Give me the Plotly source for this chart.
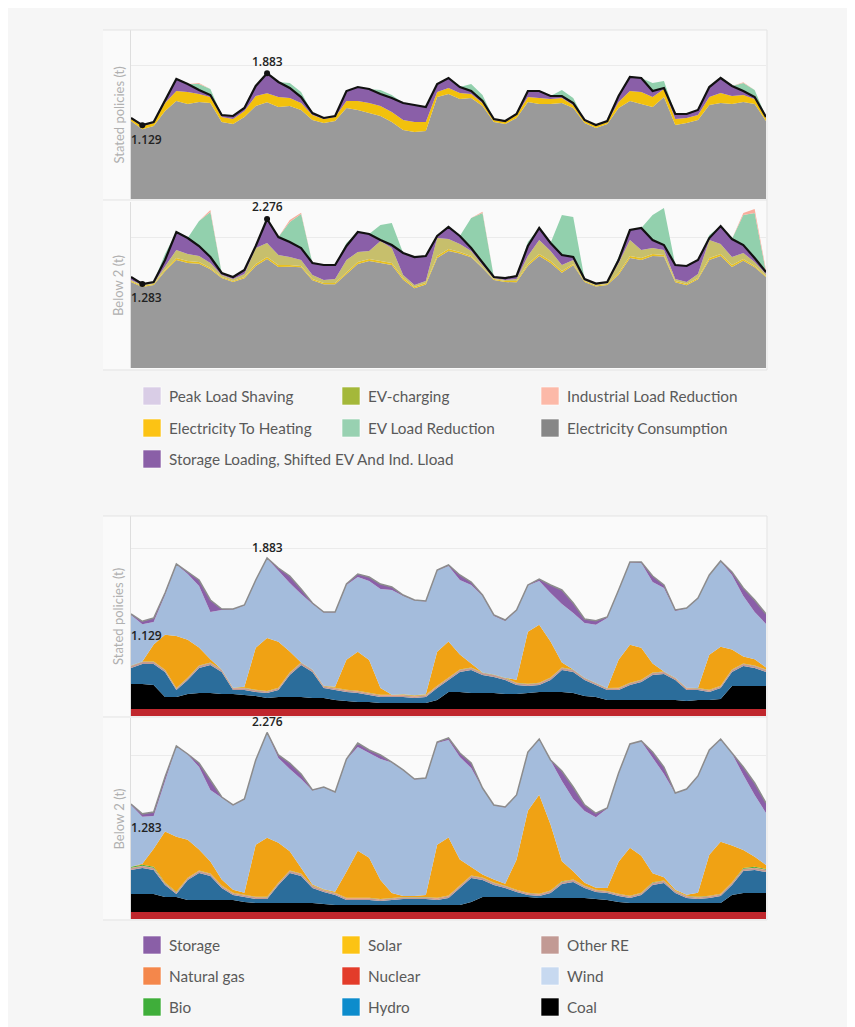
import plotly.graph_objects as go

W, H = 847, 1019   # page body has an 8px margin
OFF = 8

hours = list(range(0, 169, 3))  # 57 points, one week

# ---------------- Panel 1: Stated policies, demand side ----------------
total_demand_stated = [1.233,1.129,1.175,1.494,1.798,1.726,1.639,1.566,1.276,1.262,
                       1.378,1.697,1.883,1.755,1.668,1.537,1.305,1.233,1.262,1.624,
                       1.682,1.653,1.581,1.523,1.450,1.421,1.392,1.726,1.813,1.682,
                       1.624,1.479,1.218,1.189,1.291,1.624,1.624,1.552,1.552,1.450,
                       1.204,1.131,1.189,1.552,1.827,1.813,1.624,1.668,1.291,1.291,
                       1.349,1.682,1.813,1.697,1.624,1.537,1.247]
heating_stated = [0.029,0.044,0.044,0.116,0.145,0.174,0.116,0.087,0.073,0.073,
                  0.087,0.145,0.131,0.145,0.116,0.102,0.073,0.058,0.058,0.102,
                  0.131,0.145,0.145,0.145,0.145,0.145,0.131,0.073,0.087,0.087,
                  0.058,0.044,0.029,0.029,0.044,0.073,0.087,0.073,0.073,0.044,
                  0.029,0.029,0.029,0.087,0.145,0.174,0.145,0.116,0.087,0.073,
                  0.073,0.116,0.145,0.116,0.102,0.073,0.044]
storage_load_stated = [0.015,0.015,0.015,0.044,0.174,0.116,0.058,0.029,0.029,0.044,
                       0.044,0.145,0.290,0.218,0.145,0.087,0.029,0.015,0.015,0.145,
                       0.203,0.203,0.174,0.203,0.247,0.247,0.218,0.116,0.145,0.087,
                       0.044,0.029,0.015,0.015,0.015,0.087,0.102,0.044,0.029,0.029,
                       0.015,0.015,0.015,0.087,0.203,0.203,0.087,0.015,0.073,0.058,
                       0.073,0.145,0.218,0.145,0.058,0.029,0.015]
ev_reduction_stated = [0,0,0,0,0,0,0.087,0.087,0,0,
                       0,0,0,0,0.073,0.073,0,0,0,0,
                       0,0,0.058,0.044,0,0,0,0,0,0,
                       0.102,0.087,0,0,0,0,0,0,0.087,0.073,
                       0,0,0,0,0,0,0.116,0.102,0,0,
                       0,0,0,0,0.116,0.102,0]
industrial_stated = [0,0,0,0,0,0,0.015,0,0,0,
                     0,0,0,0,0,0,0,0,0,0,
                     0,0,0,0,0,0,0,0,0,0,
                     0,0,0,0,0,0,0,0,0,0,
                     0,0,0,0,0,0,0,0,0,0,
                     0,0,0,0,0.010,0,0]

# ---------------- Panel 2: Below 2, demand side ----------------
total_demand_below2 = [1.390,1.283,1.313,1.649,2.077,1.985,1.863,1.695,1.451,1.390,
                       1.496,1.863,2.276,2.000,1.924,1.832,1.603,1.573,1.573,1.863,
                       2.077,2.046,1.955,1.878,1.756,1.695,1.710,2.016,2.153,2.016,
                       1.832,1.603,1.390,1.374,1.405,1.863,2.138,1.909,1.726,1.695,
                       1.359,1.290,1.313,1.649,2.107,2.138,1.955,1.878,1.573,1.558,
                       1.649,1.985,2.168,1.970,1.878,1.680,1.466]
heating_below2 = [0.015,0.015,0.015,0.020,0.030,0.030,0.025,0.020,0.015,0.015,
                  0.020,0.030,0.030,0.030,0.025,0.020,0.020,0.020,0.020,0.025,
                  0.030,0.030,0.030,0.030,0.025,0.020,0.020,0.030,0.030,0.025,
                  0.020,0.015,0.015,0.015,0.020,0.025,0.030,0.030,0.025,0.020,
                  0.015,0.015,0.015,0.025,0.030,0.030,0.030,0.025,0.020,0.020,
                  0.020,0.030,0.030,0.030,0.025,0.020,0.015]
ev_charging_below2 = [0.015,0.015,0.015,0.061,0.122,0.107,0.092,0.076,0.031,0.031,
                      0.046,0.244,0.214,0.153,0.122,0.092,0.061,0.046,0.061,0.183,
                      0.153,0.122,0.305,0.229,0.046,0.031,0.031,0.275,0.153,0.122,
                      0.076,0.031,0.015,0.015,0.031,0.122,0.214,0.153,0.092,0.061,
                      0.015,0.015,0.015,0.153,0.244,0.122,0.092,0.076,0.031,0.031,
                      0.061,0.275,0.153,0.122,0.092,0.061,0.031]
storage_load_below2 = [0.046,0.015,0.015,0.092,0.275,0.244,0.153,0.092,0.031,0.031,
                       0.061,0.031,0.367,0.275,0.229,0.183,0.183,0.229,0.214,0.214,
                       0.305,0.260,0.015,0.046,0.336,0.428,0.382,0.031,0.183,0.122,
                       0.046,0.031,0.015,0.031,0.046,0.153,0.183,0.122,0.153,0.046,
                       0.015,0.015,0.015,0.046,0.153,0.336,0.122,0.076,0.214,0.244,
                       0.214,0.031,0.275,0.275,0.122,0.061,0.031]
ev_reduction_below2 = [0,0,0,0.092,0,0,0.382,0.687,0,0,
                       0,0,0,0,0.305,0.519,0,0,0,0.046,
                       0,0,0.229,0.336,0,0,0,0,0,0,
                       0.458,0.764,0,0,0,0.061,0,0,0.611,0.611,
                       0,0,0,0.046,0,0,0.382,0.565,0,0,
                       0,0.046,0,0,0.458,0.687,0]
industrial_below2 = [0,0,0,0,0,0,0,0.030,0,0,
                     0,0,0,0,0.030,0.020,0,0,0,0,
                     0,0,0,0,0,0,0,0,0,0,
                     0,0.020,0,0,0,0,0,0,0,0,
                     0,0,0,0,0,0,0,0,0,0,
                     0,0,0,0,0.030,0.060,0.030]

# ---------------- Panel 3: Stated policies, supply side ----------------
total_supply_stated = [1.216,1.129,1.168,1.466,1.812,1.716,1.621,1.383,1.275,1.275,
                       1.323,1.621,1.883,1.764,1.669,1.514,1.347,1.240,1.240,1.573,
                       1.693,1.657,1.573,1.538,1.442,1.383,1.371,1.740,1.800,1.681,
                       1.597,1.442,1.204,1.144,1.264,1.562,1.633,1.562,1.502,1.347,
                       1.156,1.135,1.180,1.502,1.836,1.836,1.669,1.562,1.264,1.287,
                       1.407,1.681,1.848,1.716,1.526,1.383,1.216]
nuclear_stated = [0.083]*57
coal_stated = [0.298,0.298,0.286,0.143,0.143,0.179,0.191,0.191,0.179,0.179,
               0.167,0.155,0.131,0.143,0.143,0.143,0.131,0.131,0.107,0.095,
               0.083,0.083,0.072,0.072,0.072,0.072,0.072,0.107,0.203,0.203,
               0.191,0.191,0.191,0.179,0.179,0.191,0.203,0.203,0.203,0.191,
               0.155,0.143,0.107,0.107,0.107,0.107,0.107,0.107,0.107,0.095,
               0.107,0.107,0.119,0.274,0.274,0.274,0.274]
hydro_stated = [0.191,0.238,0.250,0.298,0.083,0.167,0.298,0.334,0.262,0.048,
                0.060,0.048,0.060,0.083,0.262,0.381,0.310,0.119,0.119,0.107,
                0.107,0.083,0.072,0.072,0.072,0.060,0.072,0.143,0.143,0.238,
                0.274,0.215,0.191,0.167,0.107,0.083,0.083,0.143,0.262,0.250,
                0.191,0.143,0.119,0.119,0.179,0.215,0.298,0.310,0.238,0.131,
                0.119,0.095,0.131,0.167,0.238,0.215,0.167]
other_re_stated = [0.024,0.024,0.024,0.020,0.018,0.020,0.024,0.024,0.024,0.020,
                   0.020,0.020,0.018,0.020,0.024,0.024,0.024,0.020,0.020,0.020,
                   0.020,0.020,0.018,0.018,0.018,0.018,0.018,0.020,0.024,0.024,
                   0.024,0.024,0.024,0.020,0.020,0.020,0.020,0.024,0.024,0.024,
                   0.020,0.020,0.018,0.020,0.020,0.020,0.024,0.024,0.020,0.020,
                   0.018,0.020,0.020,0.024,0.024,0.024,0.024]
gas_stated = [0.004]*57
bio_stated = [0.003]*57
solar_stated = [0,0,0.203,0.417,0.620,0.453,0.215,0.036,0,0,
                0.012,0.501,0.632,0.548,0.250,0,0,0,0.012,0.358,
                0.465,0.393,0.083,0,0.006,0.006,0.006,0.405,0.429,0.179,
                0.048,0,0,0,0.036,0.620,0.691,0.429,0.060,0,
                0,0,0,0.334,0.453,0.381,0.107,0,0,0,
                0,0.417,0.465,0.238,0.083,0.072,0.024]
storage_stated = [0.012,0.036,0.048,0.024,0.006,0.024,0.072,0.143,0.012,0.006,
                  0.006,0.006,0.006,0.036,0.083,0.060,0.012,0.006,0.006,0.012,
                  0.036,0.048,0.060,0.036,0.012,0.006,0.006,0.006,0.012,0.060,
                  0.036,0.012,0.012,0.012,0.006,0.006,0.024,0.095,0.167,0.119,
                  0.048,0.048,0.012,0.006,0.006,0.012,0.072,0.036,0.012,0.006,
                  0.006,0.006,0.006,0.036,0.095,0.143,0.119]

# ---------------- Panel 4: Below 2, supply side ----------------
total_supply_below2 = [1.403,1.283,1.305,1.732,2.111,2.013,1.903,1.696,1.488,1.391,
                       1.464,1.940,2.276,2.001,1.903,1.769,1.574,1.610,1.549,1.952,
                       2.147,2.062,2.001,1.915,1.818,1.708,1.720,2.159,2.208,2.025,
                       1.903,1.598,1.391,1.366,1.513,2.037,2.196,1.940,1.806,1.610,
                       1.391,1.290,1.354,1.781,2.135,2.172,2.037,1.854,1.537,1.586,
                       1.745,2.062,2.196,2.025,1.854,1.659,1.415]
nuclear_below2 = [0.085]*57
coal_below2 = [0.220,0.220,0.220,0.183,0.183,0.146,0.146,0.146,0.146,0.146,
               0.122,0.110,0.110,0.110,0.110,0.110,0.110,0.098,0.085,0.085,
               0.085,0.085,0.085,0.085,0.085,0.085,0.085,0.085,0.085,0.085,
               0.122,0.183,0.183,0.183,0.183,0.183,0.171,0.171,0.171,0.171,
               0.171,0.159,0.146,0.122,0.110,0.110,0.110,0.110,0.110,0.110,
               0.110,0.110,0.110,0.207,0.232,0.232,0.232]
hydro_below2 = [0.293,0.317,0.293,0.146,0.037,0.244,0.329,0.293,0.146,0.061,
                0.061,0.049,0.049,0.220,0.366,0.329,0.183,0.146,0.122,0.061,
                0.061,0.061,0.049,0.061,0.073,0.073,0.073,0.061,0.085,0.207,
                0.293,0.207,0.146,0.110,0.061,0.024,0.024,0.061,0.171,0.195,
                0.122,0.085,0.085,0.073,0.061,0.098,0.220,0.244,0.122,0.061,
                0.049,0.061,0.085,0.122,0.268,0.281,0.256]
other_re_below2 = [0.024,0.024,0.024,0.020,0.018,0.020,0.024,0.024,0.024,0.020,
                   0.020,0.020,0.018,0.020,0.024,0.024,0.024,0.020,0.020,0.020,
                   0.020,0.020,0.018,0.018,0.018,0.018,0.018,0.020,0.024,0.024,
                   0.024,0.024,0.024,0.020,0.020,0.020,0.020,0.024,0.024,0.024,
                   0.020,0.020,0.018,0.020,0.020,0.020,0.024,0.024,0.020,0.020,
                   0.018,0.020,0.020,0.024,0.024,0.024,0.024]
gas_below2 = [0.004]*57
bio_below2 = [0.012,0.012,0.012,0.008,0.004,0.004,0.004,0.004,0.004,0.004,
              0.004,0.004,0.004,0.004,0.004,0.004,0.004,0.004,0.004,0.004,
              0.004,0.004,0.004,0.004,0.004,0.004,0.004,0.004,0.004,0.004,
              0.004,0.004,0.004,0.004,0.004,0.004,0.004,0.004,0.004,0.004,
              0.004,0.004,0.004,0.004,0.004,0.004,0.004,0.004,0.004,0.004,
              0.004,0.004,0.004,0.004,0.008,0.010,0.010]
solar_below2 = [0,0.012,0.220,0.622,0.671,0.464,0.256,0.146,0.073,0.037,
                0.024,0.634,0.720,0.488,0.232,0.073,0.012,0.006,0.012,0.317,
                0.573,0.488,0.232,0.061,0.012,0.012,0.024,0.647,0.708,0.317,
                0.098,0.037,0.037,0.024,0.366,1.000,1.208,0.805,0.244,0.098,
                0.037,0.024,0.037,0.390,0.586,0.451,0.110,0.037,0.012,0.012,
                0.049,0.500,0.634,0.451,0.220,0.122,0.049]
storage_below2 = [0.012,0.037,0.049,0.037,0.006,0.006,0.049,0.122,0.006,0.006,
                  0.006,0.006,0.006,0.037,0.073,0.061,0.006,0.006,0.006,0.006,
                  0.049,0.037,0.049,0.006,0.006,0.006,0.006,0.012,0.024,0.049,
                  0.061,0.006,0.006,0.006,0.006,0.006,0.006,0.006,0.122,0.146,
                  0.073,0.049,0.006,0.006,0.006,0.006,0.073,0.085,0.006,0.006,
                  0.006,0.006,0.006,0.006,0.098,0.146,0.122]

# Legends
legend_demand = [("Peak Load Shaving", "#d9cde6"), ("EV-charging", "#a4b83a"), ("Industrial Load Reduction", "#fcb9a8"),
                 ("Electricity To Heating", "#fcc314"), ("EV Load Reduction", "#98d1b1"), ("Electricity Consumption", "#878787"),
                 ("Storage Loading, Shifted EV And Ind. Lload", "#8a5fa7")]
legend_supply = [("Storage", "#8a5fa7"), ("Solar", "#fcc314"), ("Other RE", "#c29a94"),
                 ("Natural gas", "#f4874b"), ("Nuclear", "#e33c2a"), ("Wind", "#c7d9f0"),
                 ("Bio", "#3fae3a"), ("Hydro", "#0d8ccc"), ("Coal", "#000000")]

# -------------------------------------------------------------------------
def residual(total, *parts):
    return [round(t - sum(p[i] for p in parts), 4) for i, t in enumerate(total)]

consumption_stated = residual(total_demand_stated, heating_stated, storage_load_stated)
consumption_below2 = residual(total_demand_below2, heating_below2, ev_charging_below2, storage_load_below2)
wind_stated = residual(total_supply_stated, nuclear_stated, coal_stated, hydro_stated, other_re_stated,
                       gas_stated, bio_stated, solar_stated, storage_stated)
wind_below2 = residual(total_supply_below2, nuclear_below2, coal_below2, hydro_below2, other_re_below2,
                       gas_below2, bio_below2, solar_below2, storage_below2)

fig = go.Figure()

def area(y, color, xa, ya, group):
    fig.add_trace(go.Scatter(x=hours, y=y, mode="lines", stackgroup=group,
                             line=dict(width=0, color=color), fillcolor=color,
                             xaxis=xa, yaxis=ya, showlegend=False, hoverinfo="skip"))

def line(y, color, width, xa, ya):
    fig.add_trace(go.Scatter(x=hours, y=y, mode="lines", line=dict(width=width, color=color),
                             xaxis=xa, yaxis=ya, showlegend=False, hoverinfo="skip"))

# Panel 1
for y, c in [(consumption_stated, "#9a9a9a"), (heating_stated, "#f2c10c"), (storage_load_stated, "#8a5fa8"),
             (ev_reduction_stated, "#92d0ad"), (industrial_stated, "#f9b3a2")]:
    area(y, c, "x", "y", "d1")
line(total_demand_stated, "#111111", 2.2, "x", "y")

# Panel 2
for y, c in [(consumption_below2, "#9a9a9a"), (heating_below2, "#e8c020"), (ev_charging_below2, "#c7bf6c"),
             (storage_load_below2, "#8a5fa8"), (ev_reduction_below2, "#92d0ad"), (industrial_below2, "#f9ad9c")]:
    area(y, c, "x2", "y2", "d2")
line(total_demand_below2, "#111111", 2.2, "x2", "y2")

# Panel 3 & 4
supply_colors = ["#c0272d", "#000000", "#2b6d9b", "#c29a94", "#f4874b", "#3fae3a", "#f0a214", "#a4bcdc", "#8a5fa8"]
for (xa, ya, grp, series, tot) in [
        ("x3", "y3", "s3", [nuclear_stated, coal_stated, hydro_stated, other_re_stated, gas_stated, bio_stated,
                             solar_stated, wind_stated, storage_stated], total_supply_stated),
        ("x4", "y4", "s4", [nuclear_below2, coal_below2, hydro_below2, other_re_below2, gas_below2, bio_below2,
                             solar_below2, wind_below2, storage_below2], total_supply_below2)]:
    for y, c in zip(series, supply_colors):
        area(y, c, xa, ya, grp)
    line(tot, "#8c8c8c", 1.5, xa, ya)

def extremes(total):
    imax = max(range(len(total)), key=lambda i: total[i])
    imin = min(range(len(total)), key=lambda i: total[i])
    return imin, imax

annotations = []
lab_font = dict(family="Open Sans", size=12, color="#222222", weight=600)
for total, xa, ya, dots in [(total_demand_stated, "x", "y", True), (total_demand_below2, "x2", "y2", True),
                             (total_supply_stated, "x3", "y3", False), (total_supply_below2, "x4", "y4", False)]:
    imin, imax = extremes(total)
    if dots:
        fig.add_trace(go.Scatter(x=[hours[imin], hours[imax]], y=[total[imin], total[imax]], mode="markers",
                                 marker=dict(color="#111111", size=6), xaxis=xa, yaxis=ya,
                                 showlegend=False, hoverinfo="skip"))
    annotations.append(dict(x=hours[imax], y=total[imax], xref=xa, yref=ya, text=f"{total[imax]:.3f}",
                            showarrow=False, yshift=12 if dots else 11, font=lab_font))
    annotations.append(dict(x=hours[0], y=total[imin], xref=xa, yref=ya, text=f"{total[imin]:.3f}",
                            showarrow=False, xanchor="left", xshift=-2, yshift=-14, font=lab_font))

def px_x(px):
    return (px - OFF) / W

def px_y(py):
    return (H - (py - OFF)) / H

XDOM = [px_x(131), px_x(766)]
panels = [(30, 199, [0.058, 2.509]), (202, 368, [0, 2.535]), (516, 716, [0, 2.384]), (718, 919, [0, 2.452])]
layout_axes = {}
for k, (top, bottom, rng) in enumerate(panels, start=1):
    sfx = "" if k == 1 else str(k)
    layout_axes["xaxis" + sfx] = dict(domain=XDOM, range=[0, 168], showgrid=False, zeroline=False,
                                      showticklabels=False, ticks="", showline=False, anchor="y" + sfx,
                                      fixedrange=True)
    layout_axes["yaxis" + sfx] = dict(domain=[px_y(bottom), px_y(top)], range=rng, tickvals=[2],
                                      showticklabels=False, ticks="", gridcolor="#ebebeb", gridwidth=1,
                                      zeroline=False, showline=True, linecolor="#dedede", linewidth=1,
                                      anchor="x" + sfx, fixedrange=True)

for text, top, bottom in [("Stated policies (t)", 30, 199), ("Below 2 (t)", 202, 368),
                          ("Stated policies (t)", 516, 716), ("Below 2 (t)", 718, 919)]:
    annotations.append(dict(x=px_x(118), y=px_y((top + bottom) / 2), xref="paper", yref="paper",
                            text=text, textangle=-90, showarrow=False, xanchor="center", yanchor="middle",
                            font=dict(family="Lato", size=13, color="#b0b0b0")))

shapes = []
for top, bottom in [(30, 370), (516, 920)]:
    shapes.append(dict(type="rect", xref="paper", yref="paper", x0=px_x(103), x1=px_x(767),
                       y0=px_y(bottom), y1=px_y(top), fillcolor="#fafafa", line=dict(width=0), layer="below"))
for y in [30, 200, 370, 516, 717, 920]:
    shapes.append(dict(type="line", xref="paper", yref="paper", x0=px_x(103), x1=px_x(767),
                       y0=px_y(y), y1=px_y(y), line=dict(color="#e3e3e3", width=1)))
for top, bottom in [(30, 370), (516, 920)]:
    shapes.append(dict(type="line", xref="paper", yref="paper", x0=px_x(767), x1=px_x(767),
                       y0=px_y(bottom), y1=px_y(top), line=dict(color="#e3e3e3", width=1)))

col_x = [143, 342, 541]
for items, row_y in [(legend_demand, [396, 428, 459]), (legend_supply, [945, 976, 1007])]:
    for i, (name, color) in enumerate(items):
        cx = col_x[i % 3]
        cy = row_y[i // 3]
        shapes.append(dict(type="rect", xref="paper", yref="paper", x0=px_x(cx), x1=px_x(cx + 18),
                           y0=px_y(cy + 9), y1=px_y(cy - 9), fillcolor=color,
                           line=dict(color="rgba(255,255,255,0.6)", width=1)))
        annotations.append(dict(x=px_x(cx + 24), y=px_y(cy), xref="paper", yref="paper", text=name,
                                showarrow=False, xanchor="left", yanchor="middle",
                                font=dict(family="Lato", size=15.3, color="#5a5a5a")))

fig.update_layout(width=W, height=H, margin=dict(l=0, r=0, t=0, b=0), autosize=False,
                  paper_bgcolor="#f6f6f6", plot_bgcolor="#ffffff", showlegend=False,
                  annotations=annotations, shapes=shapes, **layout_axes)

fig.write_html("out.html")
